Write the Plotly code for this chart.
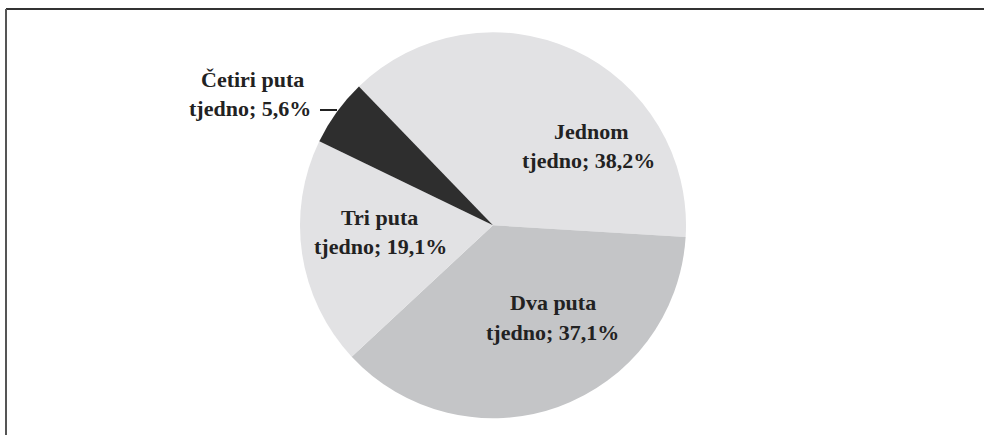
import plotly.graph_objects as go

W, H = 984, 435

# Data
line1 = ["Jednom", "Dva puta", "Tri puta", "Četiri puta"]
line2 = ["tjedno", "tjedno", "tjedno", "tjedno"]
values = [38.2, 37.1, 19.1, 5.6]
colors = ["#e2e2e4", "#c4c5c7", "#e2e2e4", "#2e2e2e"]

# label line centres in pixels (layout only): (x1, y1, x2, y2)
label_pos = [(591, 131, 588, 161), (553, 302, 552, 332),
             (379, 217, 380, 247), (252, 79, 250, 108)]

labels = [f"{a} {b}" for a, b in zip(line1, line2)]

fig = go.Figure(go.Pie(
    labels=labels,
    values=values,
    sort=False,
    direction="clockwise",
    rotation=-44,
    marker=dict(colors=colors, line=dict(width=0)),
    textinfo="none",
    hoverinfo="label+percent",
    showlegend=False,
    domain=dict(x=[(493 - 193) / W, (493 + 193) / W],
                y=[1 - 418.5 / H, 1 - 32 / H]),
))

def px(x):
    return x / W

def py(y):
    return 1 - y / H

font = dict(family="Liberation Serif", size=22, color="#222222")
annotations = []
for a, b, v, (x1, y1, x2, y2) in zip(line1, line2, values, label_pos):
    second = f"{b}; {v:.1f}%".replace(".", ",")
    for t, cx, cy in ((a, x1, y1), (second, x2, y2)):
        annotations.append(dict(
            x=px(cx), y=py(cy), xref="paper", yref="paper",
            text=f"<b>{t}</b>", showarrow=False,
            xanchor="center", yanchor="middle", font=font,
        ))

shapes = [
    # frame (top and left edges)
    dict(type="line", xref="paper", yref="paper",
         x0=px(6), x1=1.0, y0=py(9), y1=py(9),
         line=dict(color="#333333", width=2)),
    dict(type="line", xref="paper", yref="paper",
         x0=px(6), x1=px(6), y0=py(9), y1=0,
         line=dict(color="#555555", width=2)),
    # leader line for small slice
    dict(type="line", xref="paper", yref="paper",
         x0=px(320), x1=px(337), y0=py(110), y1=py(110),
         line=dict(color="#222222", width=2)),
]

fig.update_layout(
    width=W, height=H,
    margin=dict(l=0, r=0, t=0, b=0),
    paper_bgcolor="white",
    plot_bgcolor="white",
    annotations=annotations,
    shapes=shapes,
)

fig.write_html("out.html", config={"displayModeBar": False},
               post_script="document.body.style.margin='0px';document.body.style.overflow='hidden';")
